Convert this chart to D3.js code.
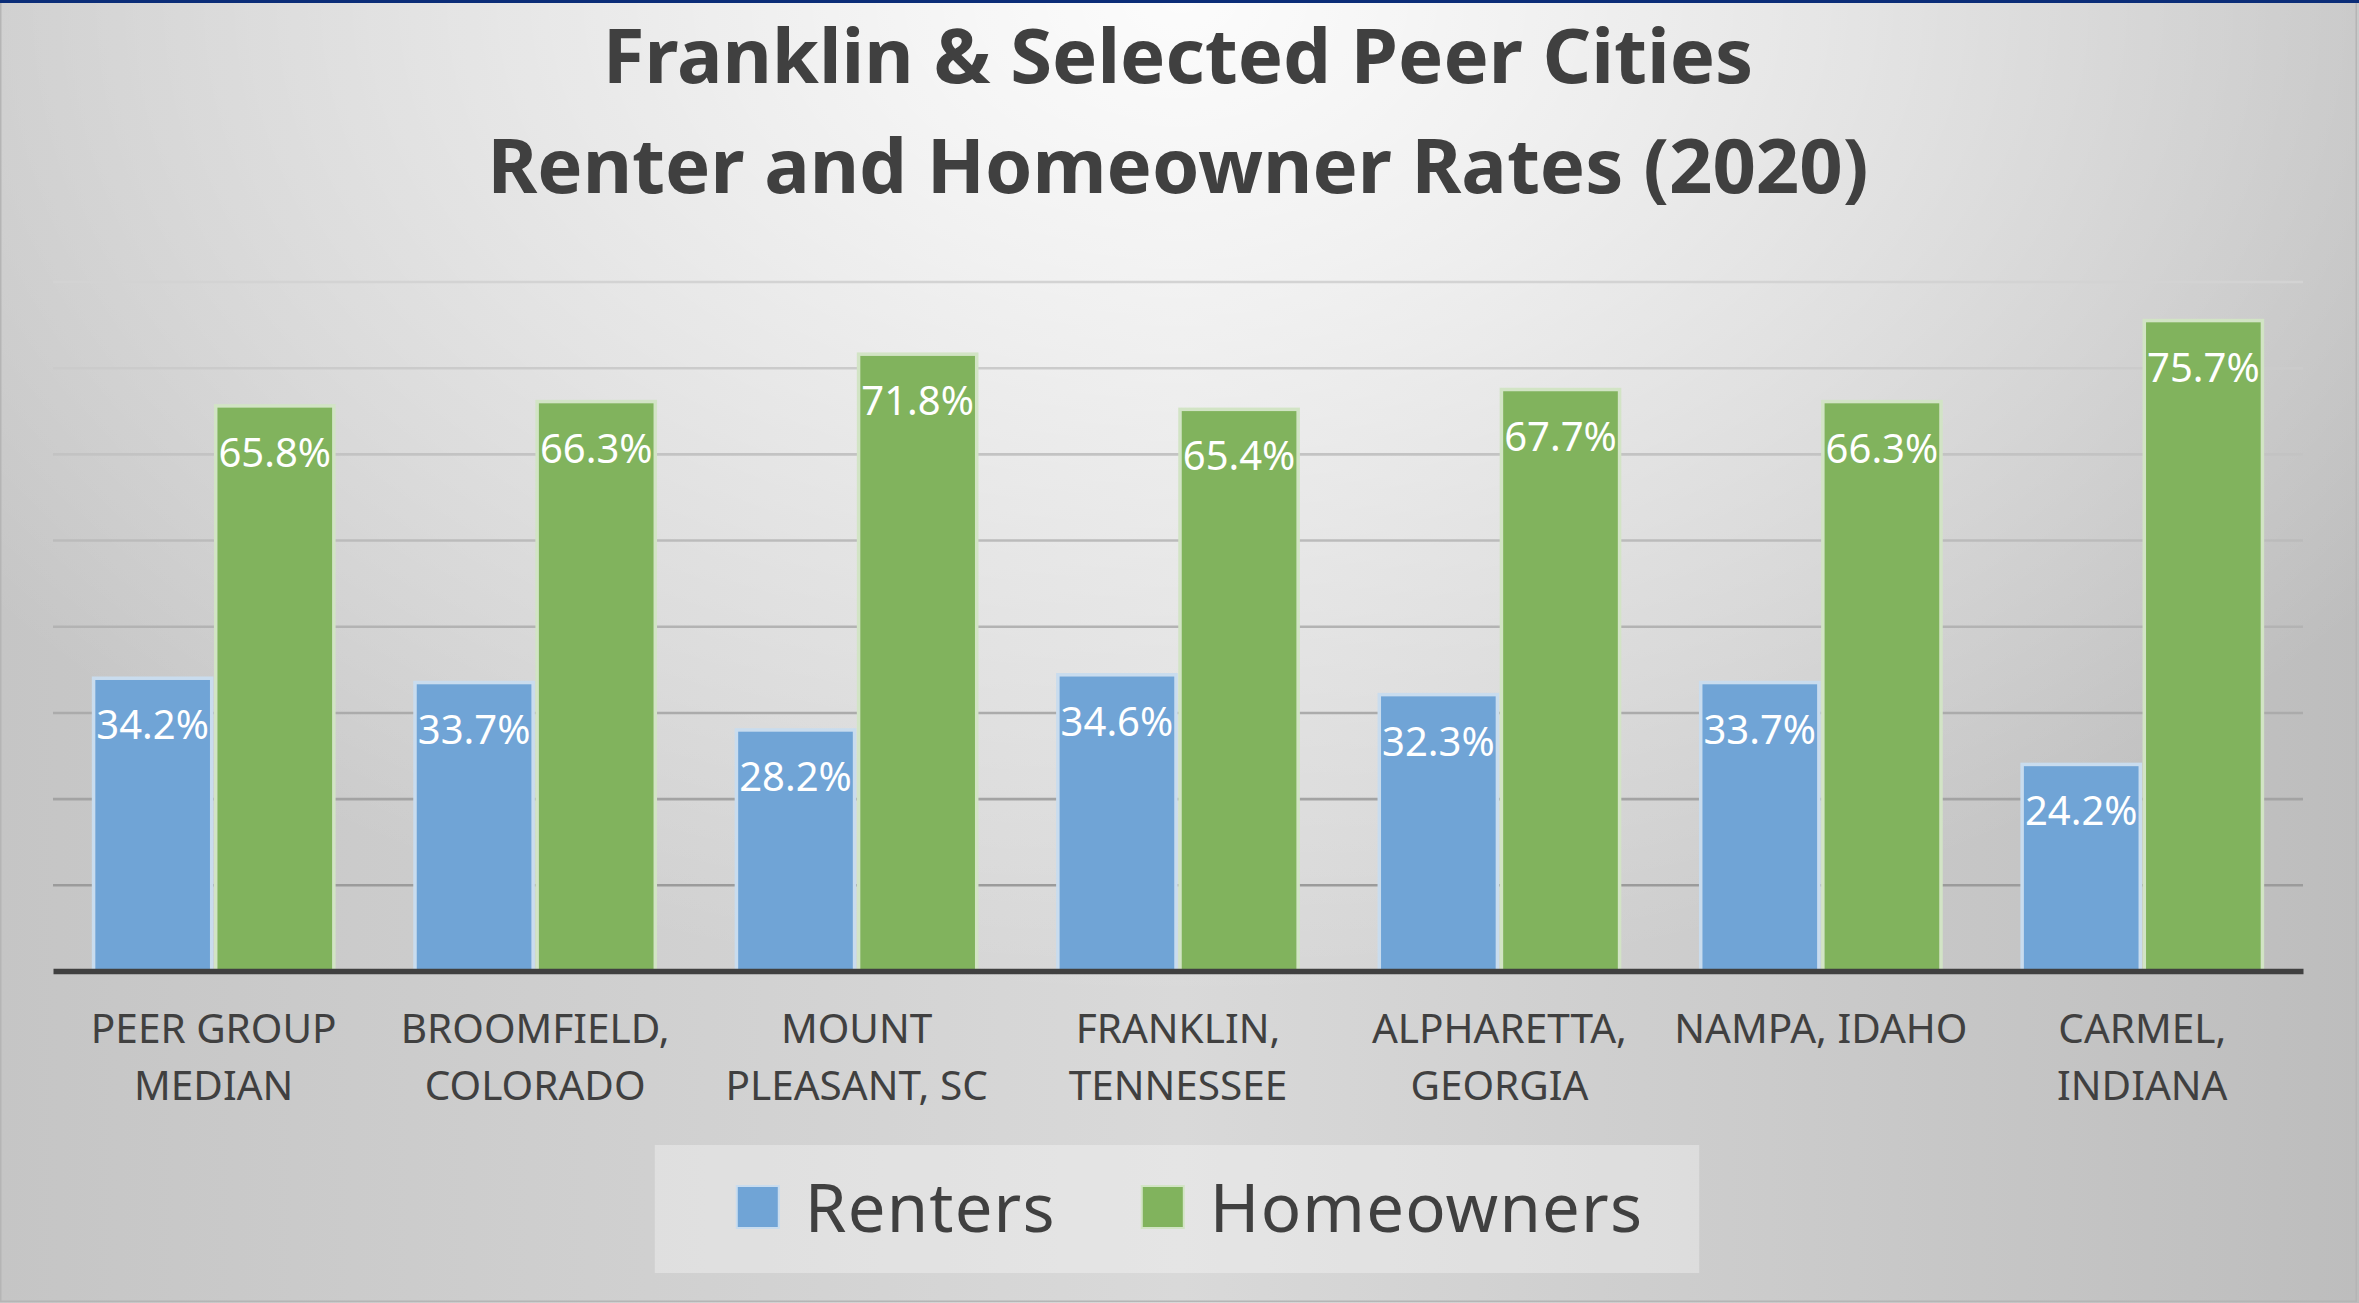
<!DOCTYPE html>
<html>
<head>
<meta charset="utf-8">
<script src="https://cdn.jsdelivr.net/npm/d3@7"></script>
<style>
  body { margin: 0; background: #fff; }
  svg { display: block; }
  text { font-family: "Noto Sans", "Open Sans", sans-serif; }
</style>
</head>
<body>
<div id="chart"></div>
<script>
// data
var categories = ["PEER GROUP MEDIAN", "BROOMFIELD, COLORADO", "MOUNT PLEASANT, SC",
  "FRANKLIN, TENNESSEE", "ALPHARETTA, GEORGIA", "NAMPA, IDAHO", "CARMEL, INDIANA"]
var categoryLines = [["PEER GROUP", "MEDIAN"], ["BROOMFIELD,", "COLORADO"], ["MOUNT", "PLEASANT, SC"],
  ["FRANKLIN,", "TENNESSEE"], ["ALPHARETTA,", "GEORGIA"], ["NAMPA, IDAHO"], ["CARMEL,", "INDIANA"]]
var series = ["Renters", "Homeowners"]
var renters = [34.2, 33.7, 28.2, 34.6, 32.3, 33.7, 24.2]
var homeowners = [65.8, 66.3, 71.8, 65.4, 67.7, 66.3, 75.7]
var yTicks = [0, 10, 20, 30, 40, 50, 60, 70, 80]
var titleLines = ["Franklin & Selected Peer Cities", "Renter and Homeowner Rates (2020)"]

var width = 2359,
    height = 1303,
    margin = {top: 281.5, right: 56, bottom: 332, left: 53}

var plotW = width - margin.left - margin.right,
    plotH = height - margin.top - margin.bottom

var svg = d3.select("#chart")
  .append("svg")
    .attr("width", width)
    .attr("height", height)

// background: light spot at top centre, darker toward the corners
var defs = svg.append("defs")
var hGrad = defs.append("linearGradient").attr("id", "bgH")
  .attr("x1", 0).attr("x2", 1).attr("y1", 0).attr("y2", 0)
hGrad.append("stop").attr("offset", 0).attr("stop-color", "#c5c5c5")
hGrad.append("stop").attr("offset", 0.5).attr("stop-color", "#d9d9d9")
hGrad.append("stop").attr("offset", 1).attr("stop-color", "#bdbdbd")

var spot = defs.append("radialGradient").attr("id", "bgSpot")
  .attr("gradientUnits", "userSpaceOnUse")
  .attr("cx", 1180).attr("cy", 0).attr("r", 1000)
  .attr("gradientTransform", "translate(1180,0) scale(1.5,1) translate(-1180,0)")
spot.append("stop").attr("offset", 0).attr("stop-color", "#fff").attr("stop-opacity", 0.92)
spot.append("stop").attr("offset", 0.4).attr("stop-color", "#fff").attr("stop-opacity", 0.55)
spot.append("stop").attr("offset", 0.7).attr("stop-color", "#fff").attr("stop-opacity", 0.28)
spot.append("stop").attr("offset", 1).attr("stop-color", "#fff").attr("stop-opacity", 0)

svg.append("rect").attr("width", width).attr("height", height).attr("fill", "url(#bgH)")
svg.append("rect").attr("width", width).attr("height", height).attr("fill", "url(#bgSpot)")
svg.append("rect")
    .attr("x", 0.75).attr("y", 0.75)
    .attr("width", width - 3.5).attr("height", height - 2.5)
    .attr("fill", "none")
    .attr("stroke", "#b5b5b5")
    .attr("stroke-width", 1.5)
svg.append("rect").attr("width", width).attr("height", 3).attr("fill", "#0b2d78")

// title
svg.append("g").selectAll("text")
  .data(titleLines)
  .enter()
  .append("text")
    .attr("x", 1178)
    .attr("y", function(d, i) { return 83 + i * 110 })
    .attr("text-anchor", "middle")
    .attr("font-size", "76px")
    .attr("font-weight", "bold")
    .attr("fill", "#404040")
    .text(function(d) { return d })

var g = svg.append("g")
    .attr("transform", "translate(" + margin.left + "," + margin.top + ")")

var x0 = d3.scaleBand()
  .domain(categories)
  .range([0, plotW])
  .paddingInner(0.24)
  .paddingOuter(0.12)

var x1 = d3.scaleBand()
  .domain(series)
  .range([0, x0.bandwidth()])

var y = d3.scaleLinear()
  .domain([0, 80])
  .range([plotH, 0])

var fill = d3.scaleOrdinal().domain(series).range(["#70a4d6", "#81b35d"])
var edge = d3.scaleOrdinal().domain(series).range(["#c9dcee", "#d2e4c5"])

// gridlines get darker toward the bottom
var gridColor = d3.scaleLinear().domain([80, 10]).range(["#d3d3d3", "#9b9b9b"])

var grid = g.append("g")
  .call(d3.axisLeft(y).tickValues(yTicks.slice(1)).tickSize(-plotW).tickFormat(""))
grid.select(".domain").remove()
grid.selectAll(".tick line")
    .attr("stroke", function(d) { return gridColor(d) })
    .attr("stroke-width", 2.6)

var rows = categories.map(function(c, i) {
  return {cat: c, values: [
    {key: "Renters", value: renters[i]},
    {key: "Homeowners", value: homeowners[i]}
  ]}
})

var groups = g.selectAll(".grp")
  .data(rows)
  .enter()
  .append("g")
    .attr("class", "grp")
    .attr("transform", function(d) { return "translate(" + x0(d.cat) + ",0)" })

groups.selectAll("rect")
  .data(function(d) { return d.values })
  .enter()
  .append("rect")
    .attr("x", function(d) { return x1(d.key) + 2 })
    .attr("y", function(d) { return y(d.value) + 2 })
    .attr("width", x1.bandwidth() - 4)
    .attr("height", function(d) { return plotH - y(d.value) - 2 })
    .attr("fill", function(d) { return fill(d.key) })
    .attr("stroke", function(d) { return edge(d.key) })
    .attr("stroke-width", 3.5)

groups.selectAll("text.val")
  .data(function(d) { return d.values })
  .enter()
  .append("text")
    .attr("class", "val")
    .attr("x", function(d) { return x1(d.key) + x1.bandwidth() / 2 })
    .attr("y", function(d) { return y(d.value) + 63 })
    .attr("text-anchor", "middle")
    .attr("font-size", "40px")
    .attr("fill", "#ffffff")
    .text(function(d) { return d.value.toFixed(1) + "%" })

// x axis line
var xAxis = g.append("g")
    .attr("transform", "translate(0," + plotH + ")")
  .call(d3.axisBottom(x0).tickSize(0).tickFormat(""))
xAxis.select(".domain")
    .attr("stroke", "#404040")
    .attr("stroke-width", 5.5)

// category labels, one or two lines
xAxis.selectAll(".tick").each(function(d, i) {
  var t = d3.select(this).append("text")
    .attr("text-anchor", "middle")
    .attr("font-size", "40.5px")
    .attr("fill", "#404040")
  t.selectAll("tspan")
    .data(categoryLines[i])
    .enter()
    .append("tspan")
      .attr("x", 0)
      .attr("y", function(l, j) { return 72 + j * 57 })
      .text(function(l) { return l })
})

// legend
var legend = svg.append("g")
var legendBg = legend.append("rect").attr("fill", "#ffffff").attr("fill-opacity", 0.32)
var lx = 0
var items = legend.selectAll(".item")
  .data(series)
  .enter()
  .append("g")
    .attr("class", "item")
items.append("rect")
    .attr("y", 1186)
    .attr("width", 42)
    .attr("height", 42)
    .attr("fill", function(d) { return fill(d) })
    .attr("stroke", function(d) { return edge(d) })
    .attr("stroke-width", 2)
items.append("text")
    .attr("y", 1232)
    .attr("font-size", "67px")
    .attr("letter-spacing", "1.2px")
    .attr("fill", "#404040")
    .text(function(d) { return d })
items.each(function() {
  var it = d3.select(this)
  it.select("rect").attr("x", lx)
  it.select("text").attr("x", lx + 68)
  lx += 68 + it.select("text").node().getComputedTextLength() + 86
})
var contentW = lx - 86
var boxW = contentW + 82 + 56
var boxX = 1177 - boxW / 2
legend.selectAll(".item").attr("transform", "translate(" + (boxX + 82) + ",0)")
legendBg.attr("x", boxX).attr("y", 1145).attr("width", boxW).attr("height", 128)
</script>
</body>
</html>
